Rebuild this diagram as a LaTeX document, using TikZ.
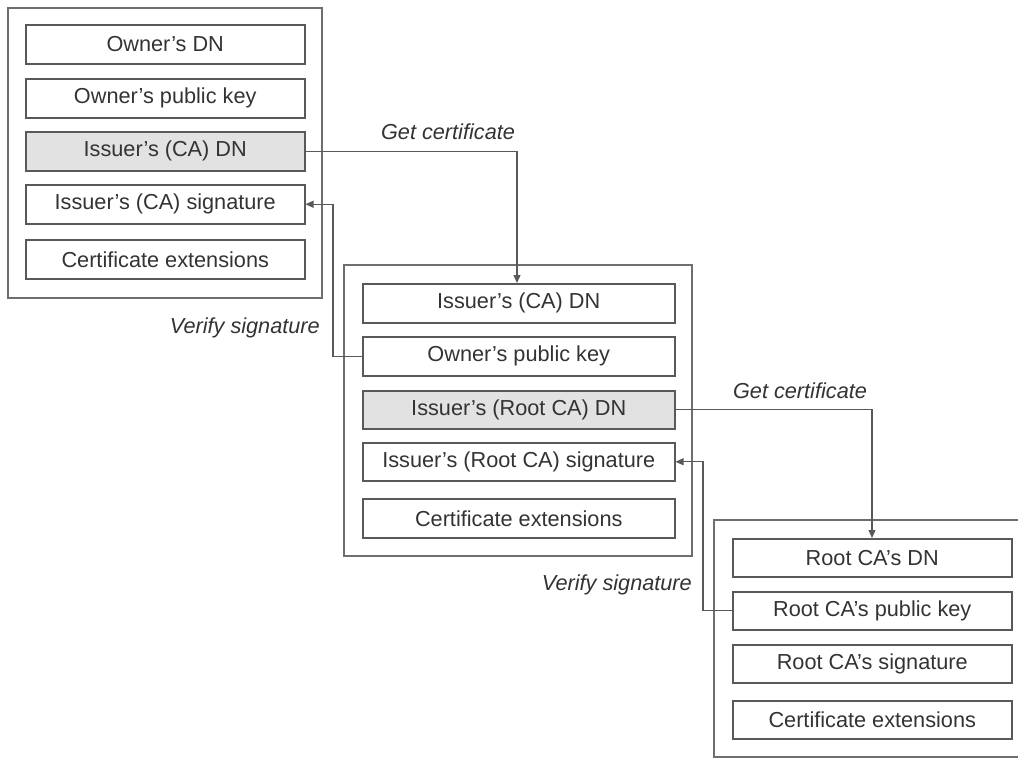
\documentclass[tikz,border=0pt]{standalone}
\usepackage{fontspec}
\setmainfont{Liberation Sans}
\usetikzlibrary{arrows.meta}
\definecolor{txt}{HTML}{333333}
\definecolor{ln}{HTML}{595959}
\definecolor{outer}{HTML}{6E6E6E}
\definecolor{shade}{HTML}{E2E2E2}
\tikzset{
  field/.style={draw=ln, line width=1.5pt, text=txt, anchor=north west, inner sep=0pt, font=\fontsize{21.7}{26}\selectfont},
  shaded/.style={field, fill=shade},
  frame/.style={draw=outer, line width=1.5pt},
  conn/.style={draw=ln, line width=1.2pt, rounded corners=0pt},
  arr/.style={conn, -{Triangle[length=8pt,width=7pt]}},
  lbl/.style={text=txt, font=\fontsize{21.7}{26}\selectfont\itshape, inner sep=0pt}
}
\begin{document}
\begin{tikzpicture}[x=1pt,y=-1pt]
\useasboundingbox (0,0) rectangle (1018,758);
% Certificate 1
\draw[frame] (8,8) rectangle (322,298);
\node[field, minimum width=279pt, minimum height=39pt] (a1) at (25,24) {Owner's DN};
\node[field, minimum width=279pt, minimum height=39pt] (a2) at (25,78) {Owner's public key};
\node[shaded, minimum width=279pt, minimum height=39pt] (a3) at (25,131) {Issuer's (CA) DN};
\node[field, minimum width=279pt, minimum height=39pt] (a4) at (25,184) {Issuer's (CA) signature};
\node[field, minimum width=279pt, minimum height=39pt] (a5) at (25,239) {Certificate extensions};
% Certificate 2
\draw[frame] (344,265) rectangle (692,556);
\node[field, minimum width=312pt, minimum height=39pt] (b1) at (362,283) {Issuer's (CA) DN};
\node[field, minimum width=312pt, minimum height=39pt] (b2) at (362,336) {Owner's public key};
\node[shaded, minimum width=312pt, minimum height=38pt] (b3) at (362,390) {Issuer's (Root CA) DN};
\node[field, minimum width=312pt, minimum height=38pt] (b4) at (362,442) {Issuer's (Root CA) signature};
\node[field, minimum width=312pt, minimum height=39pt] (b5) at (362,498) {Certificate extensions};
% Certificate 3 (right side cut off)
\draw[frame] (1022,520) -- (714,520) -- (714,757) -- (1022,757);
\node[field, minimum width=279pt, minimum height=38pt] (c1) at (732,538) {Root CA's DN};
\node[field, minimum width=279pt, minimum height=38pt] (c2) at (732,591) {Root CA's public key};
\node[field, minimum width=279pt, minimum height=38pt] (c3) at (732,644) {Root CA's signature};
\node[field, minimum width=279pt, minimum height=38pt] (c4) at (732,700) {Certificate extensions};
% Connectors
\draw[arr] (a3.east) -| (b1.north -| 517,0);
\draw[arr] (b2.west) -- ++(-29,0) |- (a4.east);
\draw[arr] (b3.east) -| (c1.north -| 872,0);
\draw[arr] (c2.west) -- ++(-29,0) |- (b4.east);
% Labels
\node[lbl] (l1) at (448,132) {Get certificate};
\node[lbl, anchor=east] (l2) at (320,328) {Verify signature};
\node[lbl] (l3) at (800,391) {Get certificate};
\node[lbl, anchor=east] (l4) at (692,585) {Verify signature};
\end{tikzpicture}
\end{document}
